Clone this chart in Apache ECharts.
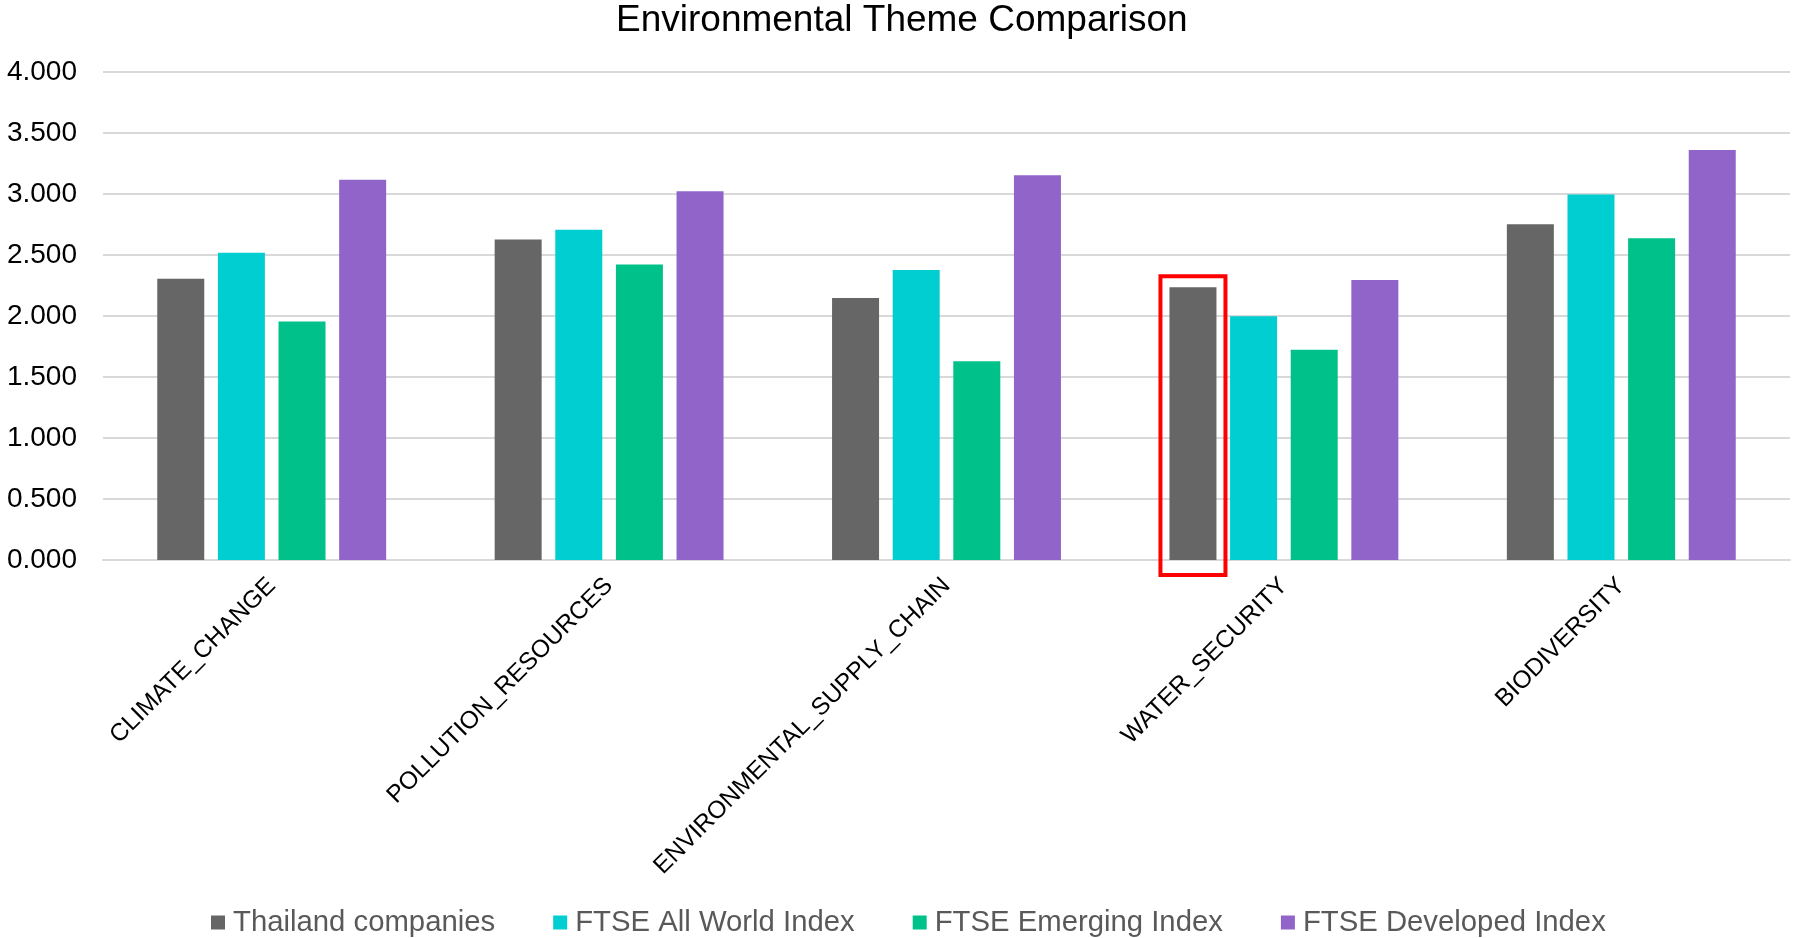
<!DOCTYPE html>
<html>
<head>
<meta charset="utf-8">
<script src="https://cdn.jsdelivr.net/npm/echarts@6/dist/echarts.min.js"></script>
<style>
  html, body { margin: 0; padding: 0; background: #ffffff; }
  #chart { width: 1793px; height: 938px; }
</style>
</head>
<body>
<div id="chart"></div>
<script>
// Environmental theme scores by category
const categories = ['CLIMATE_CHANGE', 'POLLUTION_RESOURCES', 'ENVIRONMENTAL_SUPPLY_CHAIN', 'WATER_SECURITY', 'BIODIVERSITY'];
const seriesNames = ['Thailand companies', 'FTSE All World Index', 'FTSE Emerging Index', 'FTSE Developed Index'];
const thailand   = [2.305, 2.627, 2.147, 2.236, 2.752];
const allWorld   = [2.518, 2.707, 2.378, 1.997, 2.995];
const emerging   = [1.954, 2.422, 1.629, 1.724, 2.638];
const developed  = [3.116, 3.022, 3.154, 2.295, 3.360];
const yTicks = { min: 0, max: 4, interval: 0.5 };
// Bar highlighted with a red frame: Thailand companies, WATER_SECURITY
const highlight = { series: 0, category: 3 };

const colors = ['#666666', '#00CED1', '#00C18A', '#9064C9'];
const values = [thailand, allWorld, emerging, developed];

const chart = echarts.init(document.getElementById('chart'), null, { renderer: 'canvas' });

const option = {
  backgroundColor: '#ffffff',
  animation: false,
  title: {
    text: 'Environmental Theme Comparison',
    left: 611,
    top: -3,
    textStyle: { fontFamily: 'Liberation Sans, Arial, sans-serif', fontSize: 37, fontWeight: 'normal', color: '#000000' }
  },
  legend: {
    data: seriesNames,
    left: 206,
    top: 903,
    icon: 'rect',
    itemWidth: 14,
    itemHeight: 14,
    itemGap: 58,
    textStyle: { fontFamily: 'Liberation Sans, Arial, sans-serif', fontSize: 29.3, color: '#595959', padding: [0, 0, 0, 3] }
  },
  grid: { left: 103, right: 3, top: 72, bottom: 378, containLabel: false },
  xAxis: {
    type: 'category',
    data: categories,
    axisLine: { show: true, lineStyle: { color: '#d9d9d9', width: 2 } },
    axisTick: { show: false },
    axisLabel: {
      rotate: 45,
      margin: 22,
      interval: 0,
      fontFamily: 'Liberation Sans, Arial, sans-serif',
      fontSize: 24.5,
      color: '#000000'
    }
  },
  yAxis: {
    type: 'value',
    min: yTicks.min,
    max: yTicks.max,
    interval: yTicks.interval,
    axisLine: { show: false },
    axisTick: { show: false },
    splitLine: { lineStyle: { color: '#d9d9d9', width: 2 } },
    axisLabel: {
      margin: 26,
      fontFamily: 'Liberation Sans, Arial, sans-serif',
      fontSize: 28,
      color: '#000000',
      formatter: v => v.toFixed(3)
    }
  },
  series: seriesNames.map((name, i) => ({
    name: name,
    type: 'bar',
    data: values[i],
    barWidth: 47,
    barGap: '29%',
    itemStyle: { color: colors[i] }
  }))
};

chart.setOption(option);

// Red frame around the highlighted bar, placed from the bar's computed layout
function drawFrame() {
  const data = chart.getModel().getSeriesByIndex(highlight.series).getData();
  const layout = data.getItemLayout(highlight.category);
  const base = chart.convertToPixel({ yAxisIndex: 0 }, 0);
  const top = layout.y + Math.min(0, layout.height);
  const padX = 9, padTop = 11, padBottom = 15;
  chart.setOption({
    graphic: [{
      type: 'rect',
      shape: {
        x: layout.x - padX,
        y: top - padTop,
        width: layout.width + 2 * padX,
        height: base - top + padTop + padBottom
      },
      style: { fill: 'none', stroke: '#FF0000', lineWidth: 4 },
      z: 100
    }]
  });
}
drawFrame();
</script>
</body>
</html>
